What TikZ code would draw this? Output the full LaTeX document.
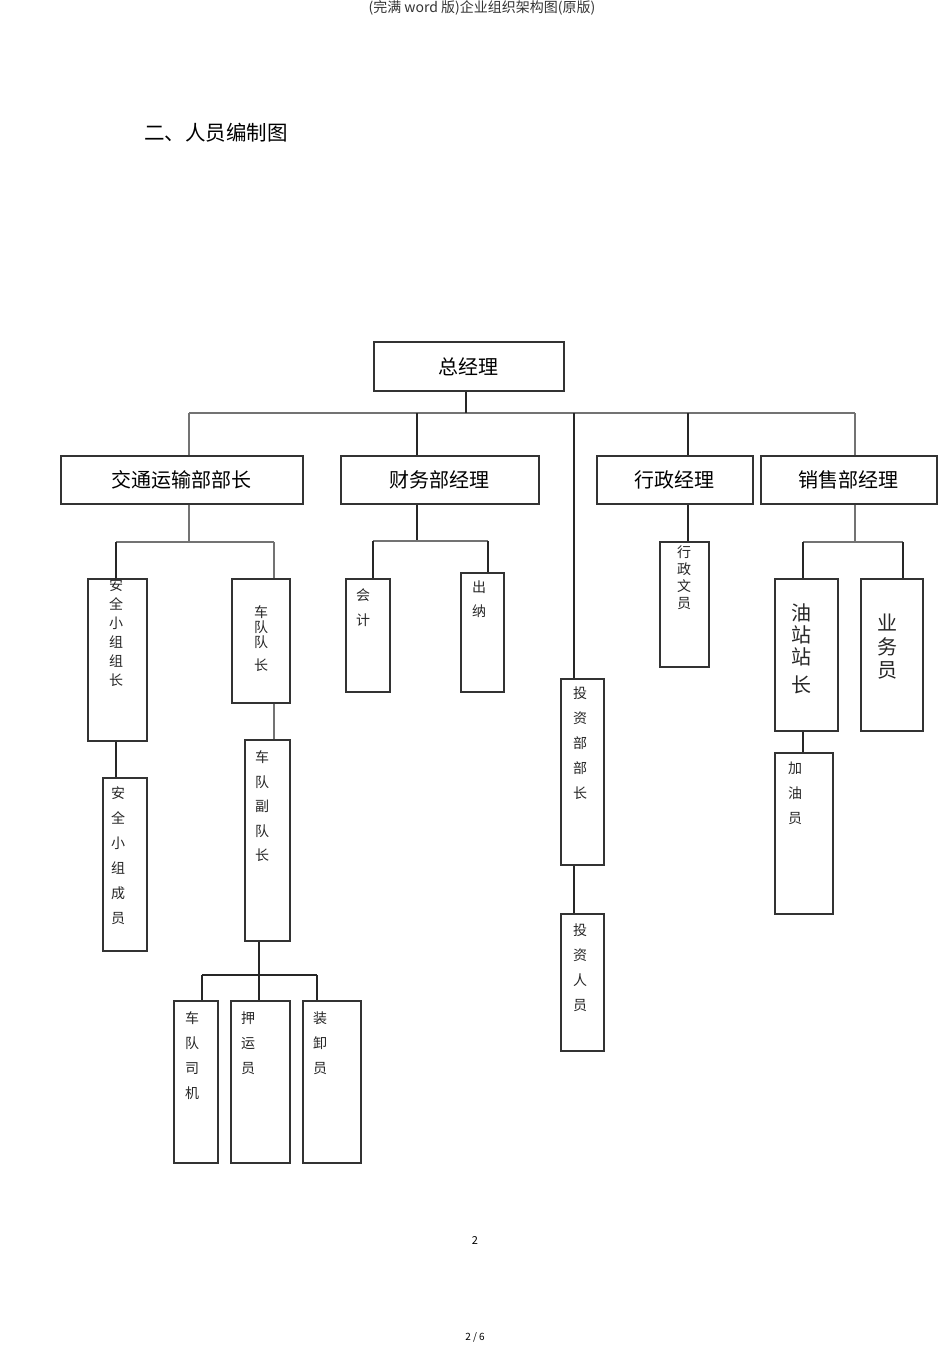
\documentclass[tikz,border=0pt]{standalone}
\usepackage{fontspec}
\setmainfont{Noto Sans CJK SC}
\usetikzlibrary{calc}
\newcommand\orgbox[7][]{\node[box,minimum width={(#5-#3)*1pt},minimum height={(#6-#4)*1pt},#1] (#2) at (#3,#4) {#7};}
\begin{document}
\begin{tikzpicture}[x=1pt,y=-1pt,
  box/.style={draw=black!80, line width=1.7pt, inner sep=0pt, anchor=north west, font=\fontsize{20}{24}\selectfont},
  conn/.style={draw=black!85, line width=1.6pt},
  bus/.style={draw=black!55, line width=1.6pt},
  vt/.style 2 args={anchor=north, inner sep=0pt, align=center, text=black!85, font=\fontsize{#1}{#2}\selectfont}]
\useasboundingbox (0,0) rectangle (950,1345);
% titles
\node[font=\fontsize{14}{16}\selectfont, text=black!80] (hdr) at (482,8) {(完满 word 版)企业组织架构图(原版)};
\node[font=\fontsize{20.5}{24}\selectfont, anchor=west, inner sep=0pt] (ttl) at (144,133) {二、人员编制图};
\node[font=\fontsize{11}{13}\selectfont] (pg) at (475,1240) {2};
\node[font=\fontsize{10}{12}\selectfont] (pgs) at (475,1337) {2 / 6};
% boxes
\orgbox{zjl}{373}{341}{563}{390}{总经理}
\orgbox{jt}{60}{455}{302}{503}{交通运输部部长}
\orgbox{cw}{340}{455}{538}{503}{财务部经理}
\orgbox{xz}{596}{455}{752}{503}{行政经理}
\orgbox{xs}{760}{455}{936}{503}{销售部经理}
\orgbox{aqz}{87}{578}{146}{740}{}
\orgbox{aqy}{102}{777}{146}{950}{}
\orgbox{cdz}{231}{578}{289}{702}{}
\orgbox{cdf}{244}{739}{289}{940}{}
\orgbox{sj}{173}{1000}{217}{1162}{}
\orgbox{yy}{230}{1000}{289}{1162}{}
\orgbox{zx}{302}{1000}{360}{1162}{}
\orgbox{kj}{345}{578}{389}{691}{}
\orgbox{cn}{460}{572}{503}{691}{}
\orgbox{tz}{560}{678}{603}{864}{}
\orgbox{tzr}{560}{913}{603}{1050}{}
\orgbox{xzw}{659}{541}{708}{666}{}
\orgbox{yz}{774}{578}{837}{730}{}
\orgbox{ywy}{860}{578}{922}{730}{}
\orgbox{jyy}{774}{752}{832}{913}{}
% vertical texts
\node[vt={14}{19}] (taqz) at (116,578.7) {安\\全\\小\\组\\组\\长};
\node[vt={14}{25}] (taqy) at (118,786.7) {安\\全\\小\\组\\成\\员};
\node[vt={14}{15}] (tcdz) at (261,605.7) {车\\队\\队\\[8pt]长};
\node[vt={14}{24.5}] (tcdf) at (262,750.7) {车\\队\\副\\队\\长};
\node[vt={14}{25}] (tkj) at (363,588.7) {会\\计};
\node[vt={14}{24}] (tcn) at (479,580.7) {出\\纳};
\node[vt={14}{25}] (ttz) at (580,686.7) {投\\资\\部\\部\\长};
\node[vt={14}{25}] (ttzr) at (580,923.7) {投\\资\\人\\员};
\node[vt={14}{17}] (txzw) at (684,545.7) {行\\政\\文\\员};
\node[vt={20}{22}] (tyz) at (801,604) {油\\站\\站\\[6pt]长};
\node[vt={20}{23.5}] (tywy) at (887,614) {业\\务\\员};
\node[vt={14}{25}] (tjyy) at (795,761.7) {加\\油\\员};
\node[vt={14}{25}] (tsj) at (192,1011.7) {车\\队\\司\\机};
\node[vt={14}{25}] (tyy) at (248,1011.7) {押\\运\\员};
\node[vt={14}{25}] (tzx) at (320,1011.7) {装\\卸\\员};
% bus coordinates
\coordinate (d1) at (189,413);
\coordinate (d2) at (417,413);
\coordinate (d3) at (574,413);
\coordinate (d4) at (688,413);
\coordinate (d5) at (855,413);
\coordinate (a1) at (116,542);
\coordinate (a2) at (274,542);
\coordinate (f1) at (373,541);
\coordinate (f2) at (488,541);
\coordinate (s1) at (803,542);
\coordinate (s2) at (903,542);
\coordinate (c0) at (259,975);
\coordinate (c1) at (202,975);
\coordinate (c3) at (317,975);
% top level
\draw[bus] (d1) -- (d5);
\draw[conn] (zjl.south -| 466,0) -- (d1 -| 466,0);
\draw[bus] (d1) -- (d1 |- jt.north);
\draw[conn] (d2) -- (d2 |- cw.north);
\draw[conn] (d3) -- (d3 |- tz.north);
\draw[conn] (d4) -- (d4 |- xz.north);
\draw[bus] (d5) -- (d5 |- xs.north);
% transport
\draw[bus] (d1 |- jt.south) -- (d1 |- a1);
\draw[bus] (a1) -- (a2);
\draw[conn] (a1) -- (a1 |- aqz.north);
\draw[bus] (a2) -- (a2 |- cdz.north);
\draw[conn] (a1 |- aqz.south) -- (a1 |- aqy.north);
\draw[bus] (a2 |- cdz.south) -- (a2 |- cdf.north);
\draw[conn] (c0 |- cdf.south) -- (c0);
\draw[conn] (c1) -- (c3);
\draw[conn] (c1) -- (c1 |- sj.north);
\draw[conn] (c0) -- (c0 |- yy.north);
\draw[conn] (c3) -- (c3 |- zx.north);
% finance
\draw[conn] (d2 |- cw.south) -- (d2 |- f1);
\draw[bus] (f1) -- (f2);
\draw[conn] (f1) -- (f1 |- kj.north);
\draw[conn] (f2) -- (f2 |- cn.north);
% investment
\draw[conn] (d3 |- tz.south) -- (d3 |- tzr.north);
% admin
\draw[conn] (d4 |- xz.south) -- (d4 |- xzw.north);
% sales
\draw[bus] (d5 |- xs.south) -- (d5 |- s1);
\draw[bus] (s1) -- (s2);
\draw[conn] (s1) -- (s1 |- yz.north);
\draw[conn] (s2) -- (s2 |- ywy.north);
\draw[conn] (s1 |- yz.south) -- (s1 |- jyy.north);
\end{tikzpicture}
\end{document}
